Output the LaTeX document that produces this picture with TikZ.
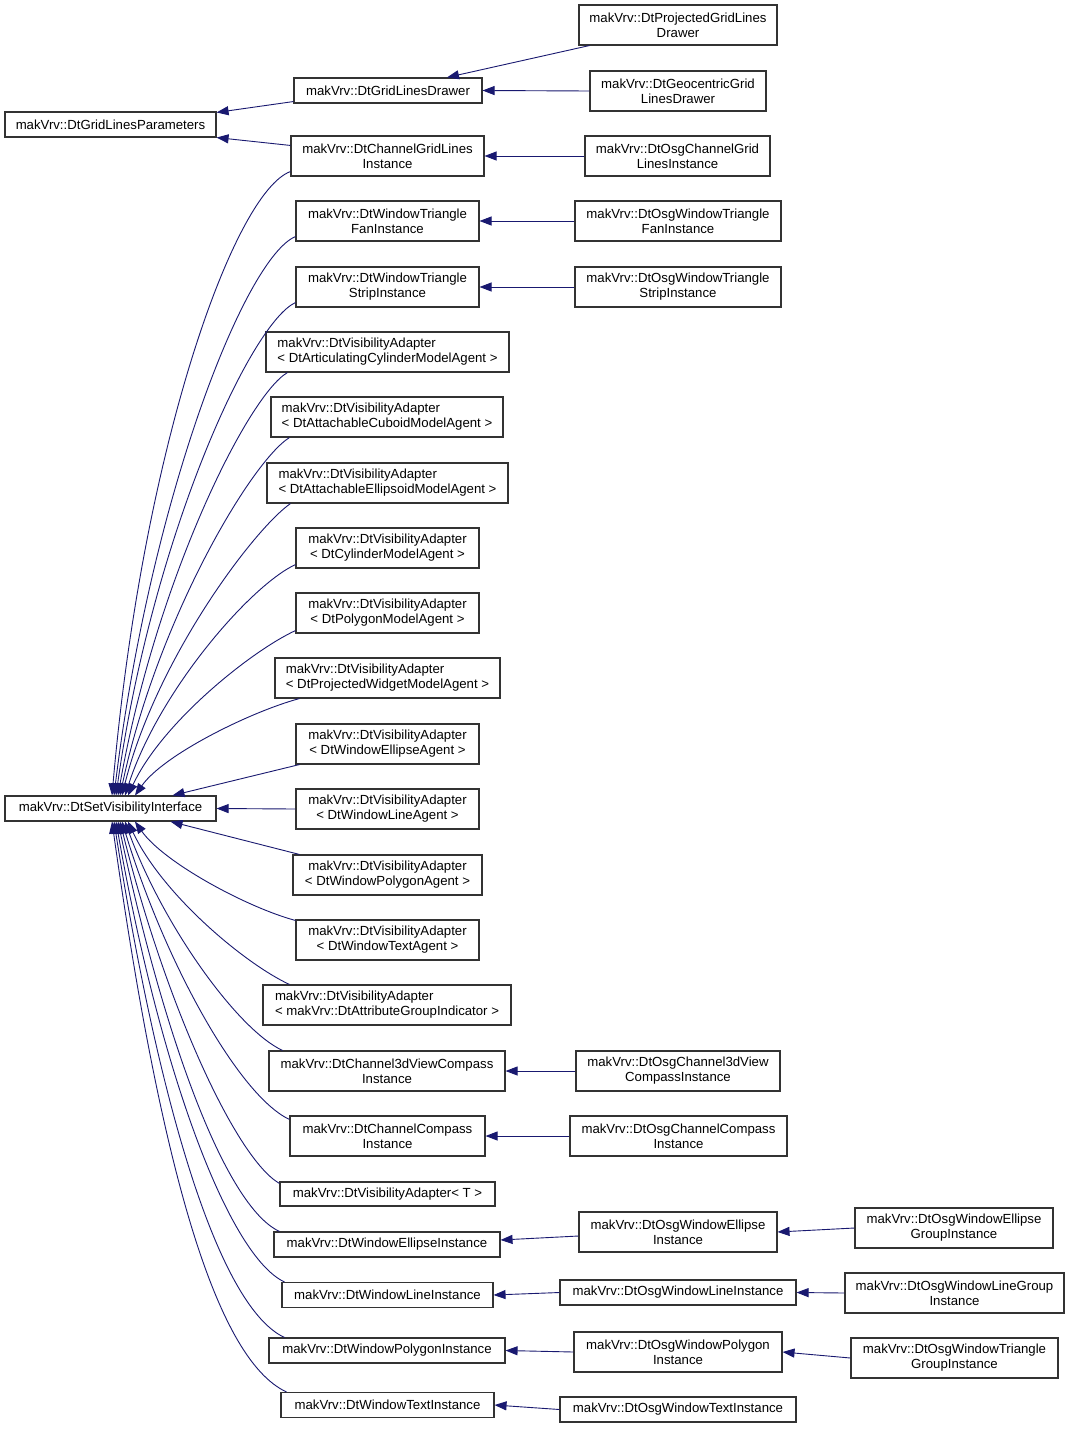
\documentclass[tikz,border=0pt]{standalone}
\usepackage{fontspec}
\setmainfont{Liberation Sans}
\usetikzlibrary{arrows.meta}
\definecolor{edgeblue}{RGB}{25,25,112}

\tikzset{
  cls/.style={draw=black!80, fill=white, line width=1.1pt, inner sep=0pt,
    font=\fontsize{13.2}{15}\selectfont, minimum height=25pt, minimum width=#1},
  cls2/.style={cls=#1, minimum height=40pt, align=center},
  clsl/.style={cls=#1, minimum height=40pt, align=left},
  inh/.style={draw=edgeblue, line width=0.9pt, -{Triangle[length=12pt,width=9pt]}},
}

\begin{document}
\begin{tikzpicture}[x=1pt,y=-1pt]
\useasboundingbox[fill=white] (0,0) rectangle (1069,1429);

% base classes
\node[cls=211pt] (glp) at (110.5,124.5) {makVrv::DtGridLinesParameters};
\node[cls=211pt] (svi) at (110.5,808.5) {makVrv::DtSetVisibilityInterface};

% grid lines branch
\node[cls=188pt] (gld) at (388,90.5) {makVrv::DtGridLinesDrawer};
\node[cls2=198pt] (pgld) at (678,25) {makVrv::DtProjectedGridLines\\Drawer};
\node[cls2=176pt] (ggld) at (678,91) {makVrv::DtGeocentricGrid\\LinesDrawer};
\node[cls2=193pt] (cgli) at (387.5,156) {makVrv::DtChannelGridLines\\Instance};
\node[cls2=185pt] (ocgli) at (677.5,156) {makVrv::DtOsgChannelGrid\\LinesInstance};

% visibility children
\node[cls2=183pt] (wtfi) at (387.5,221) {makVrv::DtWindowTriangle\\FanInstance};
\node[cls2=206pt] (owtfi) at (678,221) {makVrv::DtOsgWindowTriangle\\FanInstance};
\node[cls2=183pt] (wtsi) at (387.5,287) {makVrv::DtWindowTriangle\\StripInstance};
\node[cls2=206pt] (owtsi) at (678,287) {makVrv::DtOsgWindowTriangle\\StripInstance};
\node[clsl=243pt] (vaacm) at (387.5,352) {makVrv::DtVisibilityAdapter\\< DtArticulatingCylinderModelAgent >};
\node[clsl=232pt] (vaccm) at (387,417) {makVrv::DtVisibilityAdapter\\< DtAttachableCuboidModelAgent >};
\node[clsl=241pt] (vaaem) at (387.5,483) {makVrv::DtVisibilityAdapter\\< DtAttachableEllipsoidModelAgent >};
\node[cls2=183pt] (vacyl) at (387.5,548) {makVrv::DtVisibilityAdapter\\< DtCylinderModelAgent >};
\node[cls2=183pt] (vapol) at (387.5,613) {makVrv::DtVisibilityAdapter\\< DtPolygonModelAgent >};
\node[clsl=225pt] (vapwm) at (387.5,678) {makVrv::DtVisibilityAdapter\\< DtProjectedWidgetModelAgent >};
\node[cls2=183pt] (vawea) at (387.5,744) {makVrv::DtVisibilityAdapter\\< DtWindowEllipseAgent >};
\node[cls2=183pt] (vawla) at (387.5,809) {makVrv::DtVisibilityAdapter\\< DtWindowLineAgent >};
\node[cls2=189pt] (vawpa) at (387.5,875) {makVrv::DtVisibilityAdapter\\< DtWindowPolygonAgent >};
\node[cls2=183pt] (vawta) at (387.5,940) {makVrv::DtVisibilityAdapter\\< DtWindowTextAgent >};
\node[clsl=248pt] (vaagi) at (387,1005) {makVrv::DtVisibilityAdapter\\< makVrv::DtAttributeGroupIndicator >};
\node[cls2=236pt] (c3vci) at (387,1071) {makVrv::DtChannel3dViewCompass\\Instance};
\node[cls2=204pt] (oc3vci) at (678,1071) {makVrv::DtOsgChannel3dView\\CompassInstance};
\node[cls2=195pt] (cci) at (387.5,1136) {makVrv::DtChannelCompass\\Instance};
\node[cls2=217pt] (occi) at (678.5,1136) {makVrv::DtOsgChannelCompass\\Instance};
\node[cls=215pt, minimum height=24pt] (vat) at (387.5,1194) {makVrv::DtVisibilityAdapter< T >};
\node[cls=226pt] (wei) at (387,1244.5) {makVrv::DtWindowEllipseInstance};
\node[cls2=198pt] (owei) at (678,1232) {makVrv::DtOsgWindowEllipse\\Instance};
\node[cls2=198pt] (oweg) at (954,1228) {makVrv::DtOsgWindowEllipse\\GroupInstance};
\node[cls=211pt] (wli) at (387.5,1295) {makVrv::DtWindowLineInstance};
\node[cls=236pt] (owli) at (678,1292.5) {makVrv::DtOsgWindowLineInstance};
\node[cls2=219pt] (owlg) at (954.5,1293) {makVrv::DtOsgWindowLineGroup\\Instance};
\node[cls=236pt] (wpi) at (387,1350.5) {makVrv::DtWindowPolygonInstance};
\node[cls2=208pt] (owpi) at (678,1352) {makVrv::DtOsgWindowPolygon\\Instance};
\node[cls2=207pt] (owtg) at (954.5,1358) {makVrv::DtOsgWindowTriangle\\GroupInstance};
\node[cls=213pt] (wti) at (387.5,1405) {makVrv::DtWindowTextInstance};
\node[cls=236pt] (owti) at (678,1409.5) {makVrv::DtOsgWindowTextInstance};

% straight inheritance lines
\draw[inh] ([yshift=2pt]gld.south west) -- ([yshift=-1pt]glp.north east);
\draw[inh] ([yshift=-10pt]cgli.north west) -- (glp.south east);
\draw[inh] ([xshift=11pt]pgld.south west) -- ([xshift=59pt]gld.north);
\draw[inh] (ggld.west) -- (gld.east);
\draw[inh] (ocgli.west) -- (cgli.east);
\draw[inh] (owtfi.west) -- (wtfi.east);
\draw[inh] (owtsi.west) -- (wtsi.east);
\draw[inh] (oc3vci.west) -- (c3vci.east);
\draw[inh] (occi.west) -- (cci.east);
\draw[inh] ([yshift=-4pt]owei.west) -- ([yshift=4.5pt]wei.east);
\draw[inh] (oweg.west) -- (owei.east);
\draw[inh] (owli.west) -- (wli.east);
\draw[inh] (owlg.west) -- (owli.east);
\draw[inh] (owpi.west) -- (wpi.east);
\draw[inh] (owtg.west) -- (owpi.east);
\draw[inh] (owti.west) -- (wti.east);
\draw[inh] (vawla.west) -- (svi.east);
\draw[inh] ([xshift=4pt]vawea.south west) -- ([xshift=62pt]svi.north);
\draw[inh] ([xshift=7pt]vawpa.north west) -- ([xshift=60pt]svi.south);

% curved lines into the top of svi
\draw[inh] ([yshift=5pt]cgli.south west) to[out=200,in=85,out distance=60pt,in distance=350pt] ([xshift=1.5pt]svi.north);
\draw[inh] ([yshift=5pt]wtfi.south west) to[out=203,in=83,out distance=55pt,in distance=300pt] ([xshift=3.5pt]svi.north);
\draw[inh] ([yshift=5pt]wtsi.south west) to[out=205,in=82,out distance=50pt,in distance=260pt] ([xshift=5.5pt]svi.north);
\draw[inh] ([xshift=22pt]vaacm.south west) to[out=210,in=80,out distance=45pt,in distance=220pt] ([xshift=7.5pt]svi.north);
\draw[inh] ([xshift=19pt]vaccm.south west) to[out=212,in=78,out distance=45pt,in distance=180pt] ([xshift=9.5pt]svi.north);
\draw[inh] ([xshift=24pt]vaaem.south west) to[out=215,in=76,out distance=45pt,in distance=140pt] ([xshift=11.5pt]svi.north);
\draw[inh] ([yshift=4pt]vacyl.south west) to[out=205,in=72,out distance=50pt,in distance=110pt] ([xshift=14.5pt]svi.north);
\draw[inh] ([yshift=3pt]vapol.south west) to[out=205,in=65,out distance=50pt,in distance=80pt] ([xshift=17.5pt]svi.north);
\draw[inh] ([xshift=25pt]vapwm.south west) to[out=195,in=55,out distance=50pt,in distance=50pt] ([xshift=24.5pt]svi.north);

% curved lines into the bottom of svi
\draw[inh] ([yshift=-1pt]vawta.north west) to[out=165,in=305,out distance=50pt,in distance=50pt] ([xshift=24.5pt]svi.south);
\draw[inh] ([xshift=27pt]vaagi.north west) to[out=155,in=295,out distance=50pt,in distance=80pt] ([xshift=17.5pt]svi.south);
\draw[inh] ([xshift=14pt]c3vci.north west) to[out=155,in=290,out distance=50pt,in distance=110pt] ([xshift=14.5pt]svi.south);
\draw[inh] ([yshift=-4pt]cci.north west) to[out=155,in=287,out distance=55pt,in distance=150pt] ([xshift=11.5pt]svi.south);
\draw[inh] ([yshift=-2pt]vat.north west) to[out=150,in=284,out distance=50pt,in distance=190pt] ([xshift=9.5pt]svi.south);
\draw[inh] ([xshift=6pt]wei.north west) to[out=155,in=282,out distance=60pt,in distance=220pt] ([xshift=7.5pt]svi.south);
\draw[inh] ([xshift=3pt]wli.north west) to[out=155,in=280,out distance=60pt,in distance=260pt] ([xshift=5.5pt]svi.south);
\draw[inh] ([xshift=16pt]wpi.north west) to[out=155,in=279,out distance=70pt,in distance=300pt] ([xshift=3.5pt]svi.south);
\draw[inh] ([xshift=6pt]wti.north west) to[out=155,in=278,out distance=80pt,in distance=340pt] ([xshift=1.5pt]svi.south);

\end{tikzpicture}
\end{document}
